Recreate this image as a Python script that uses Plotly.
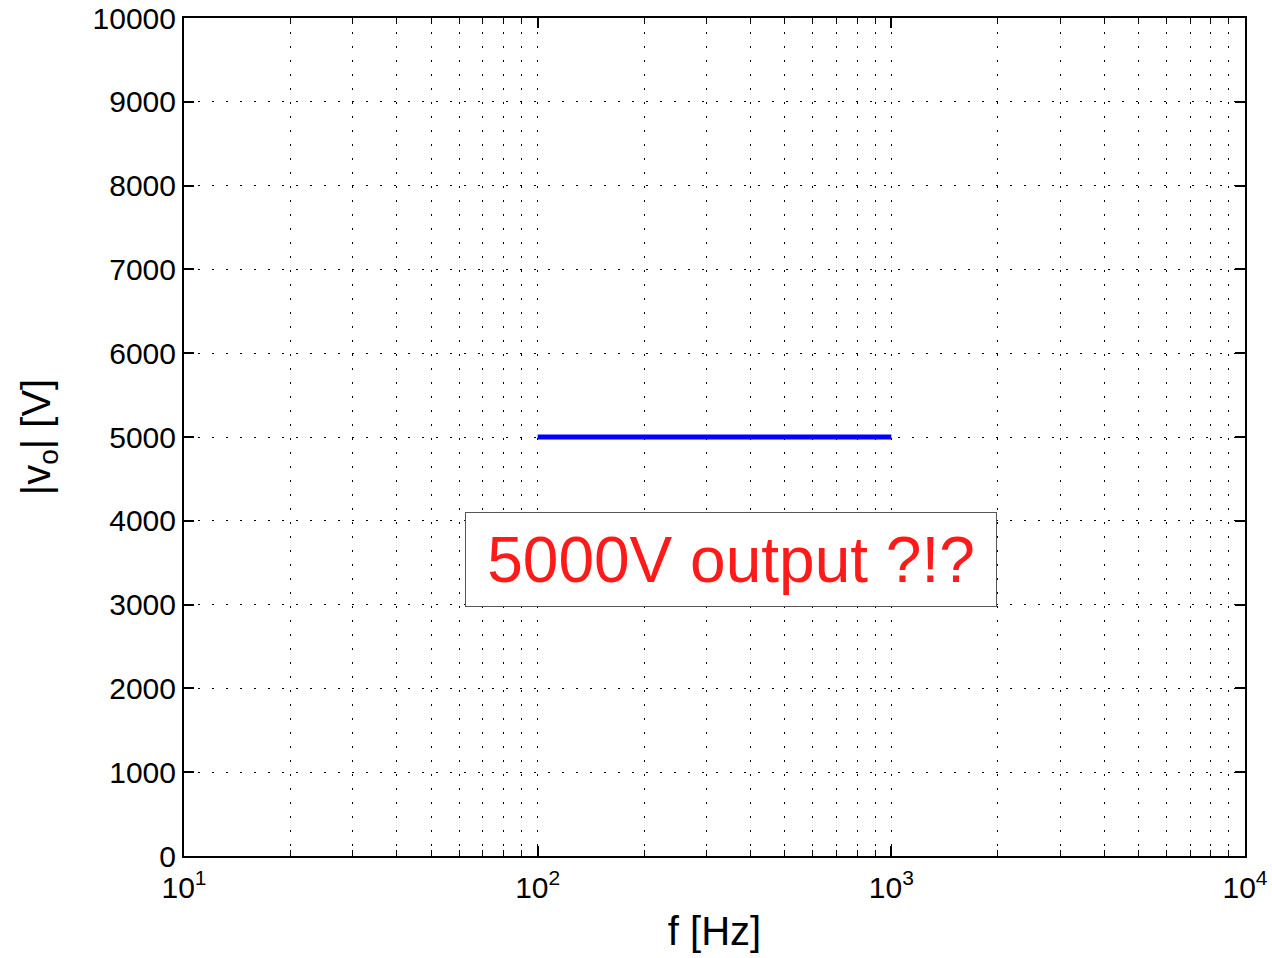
import math
import plotly.graph_objects as go

# Frequency sweep and output magnitude
freq_hz = [100, 1000]
vout_mag = [5000, 5000]

# Axis ticks
x_major = [10, 100, 1000, 10000]
x_major_text = ["10<sup>1</sup>", "10<sup>2</sup>", "10<sup>3</sup>", "10<sup>4</sup>"]
x_minor = [m * d for d in (10, 100, 1000) for m in range(2, 10)]
y_ticks = list(range(0, 10001, 1000))
y_tick_text = [str(v) for v in y_ticks]

note_text = "5000V output ?!?"
note_x = 352
note_y = 3540

FONT = "Liberation Sans, Arial, Helvetica, sans-serif"
DOT = "2px,12px"

fig = go.Figure()
fig.add_trace(go.Scatter(
    x=freq_hz, y=vout_mag, mode="lines",
    line=dict(color="#0000ff", width=5),
    showlegend=False,
))

# annotation positions on a log axis are given in log10 units
fig.add_annotation(
    x=math.log10(note_x), y=note_y, xref="x", yref="y",
    xanchor="center", yanchor="middle",
    text=note_text, showarrow=False,
    font=dict(family=FONT, size=64, color="#ff1a1a"),
    bgcolor="white", bordercolor="#555555", borderwidth=1,
    borderpad=0, width=530, height=93,
)

fig.update_layout(
    width=1272, height=958,
    margin=dict(l=184, r=27, t=18, b=102),
    paper_bgcolor="white", plot_bgcolor="white",
    font=dict(family=FONT, color="black"),
    xaxis=dict(
        type="log", range=[1, 4], automargin=False,
        tickmode="array", tickvals=x_major, ticktext=x_major_text,
        ticks="inside", ticklen=10, tickwidth=1.5, tickcolor="black",
        tickfont=dict(size=30), ticklabelstandoff=4,
        showline=True, linecolor="black", linewidth=2, mirror="ticks",
        showgrid=True, gridcolor="black", gridwidth=1, griddash=DOT,
        zeroline=False,
        minor=dict(tickmode="array", tickvals=x_minor, ticks="inside",
                   ticklen=6, tickcolor="black", tickwidth=1,
                   showgrid=True, gridcolor="black", gridwidth=1, griddash=DOT),
        title=dict(text="f [Hz]", font=dict(size=40), standoff=14),
    ),
    yaxis=dict(
        range=[0, 10000], automargin=False,
        tickmode="array", tickvals=y_ticks, ticktext=y_tick_text,
        ticks="inside", ticklen=10, tickwidth=1.5, tickcolor="black",
        tickfont=dict(size=30),
        showline=True, linecolor="black", linewidth=2, mirror="ticks",
        showgrid=True, gridcolor="black", gridwidth=1, griddash=DOT,
        zeroline=False,
        title=dict(text="|v<sub>o</sub>| [V]", font=dict(size=40), standoff=30),
    ),
)

fig.write_html("out.html")
